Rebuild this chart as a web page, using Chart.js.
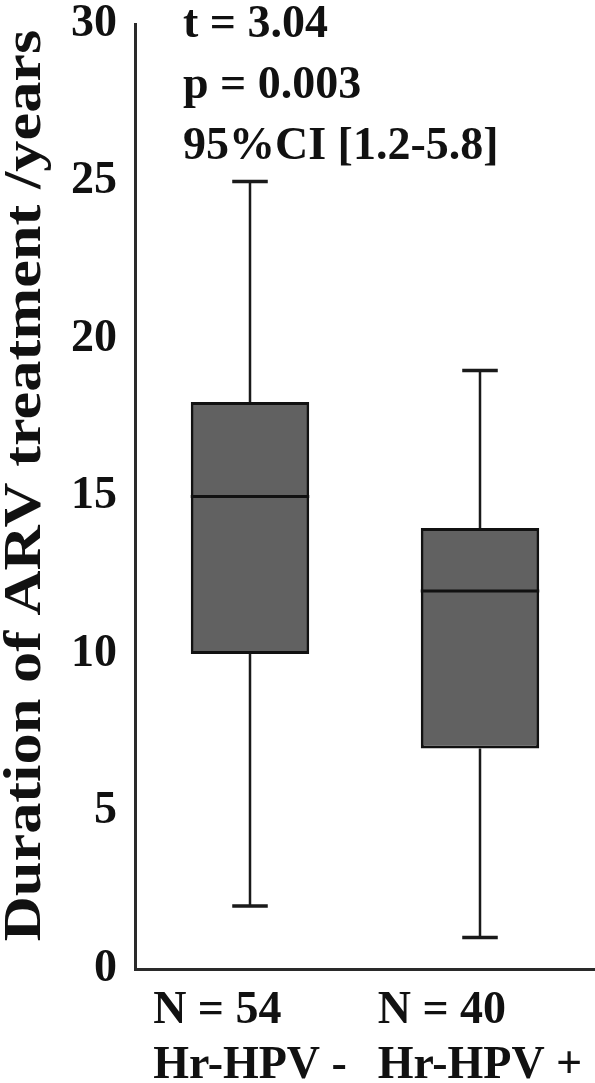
<!DOCTYPE html>
<html>
<head>
<meta charset="utf-8">
<script src="https://cdn.jsdelivr.net/npm/chart.js@4.4.1/dist/chart.umd.min.js"></script>
<style>
  html, body { margin: 0; padding: 0; background: #fff; }
  #wrap { width: 595px; height: 1083px; }
</style>
</head>
<body>
<div id="wrap"><canvas id="box" width="595" height="1083"></canvas></div>
<script>
// values
const groups = ["Hr-HPV -", "Hr-HPV +"];
const counts = [54, 40];
const whiskerLow = [2, 1];
const q1 = [10, 7];
const medians = [15, 12];
const q3 = [18, 14];
const whiskerHigh = [25, 19];
const yTicks = [0, 5, 10, 15, 20, 25, 30];
const yTitle = "Duration of ARV treatment /years";
const statLines = ["t = 3.04", "p = 0.003", "95%CI [1.2-5.8]"];

const SERIF = "'Liberation Serif', 'Times New Roman', serif";
const INK = "#111";

// whiskers + median lines on top of the floating bars
const boxExtras = {
    id: "boxExtras",
    afterDatasetsDraw(chart) {
        const { ctx, scales: { y } } = chart;
        const meta = chart.getDatasetMeta(0);
        ctx.save();
        meta.data.forEach((bar, i) => {
            const cx = bar.x;
            const half = bar.width / 2;
            const cap = bar.width * 0.15;
            ctx.strokeStyle = "#1a1a1a";
            ctx.lineWidth = 2.5;
            ctx.beginPath();
            ctx.moveTo(cx, y.getPixelForValue(q3[i]));
            ctx.lineTo(cx, y.getPixelForValue(whiskerHigh[i]));
            ctx.moveTo(cx, y.getPixelForValue(q1[i]));
            ctx.lineTo(cx, y.getPixelForValue(whiskerLow[i]));
            ctx.stroke();
            ctx.lineWidth = 3.5;
            ctx.beginPath();
            ctx.moveTo(cx - cap, y.getPixelForValue(whiskerHigh[i]));
            ctx.lineTo(cx + cap, y.getPixelForValue(whiskerHigh[i]));
            ctx.moveTo(cx - cap, y.getPixelForValue(whiskerLow[i]));
            ctx.lineTo(cx + cap, y.getPixelForValue(whiskerLow[i]));
            ctx.stroke();
            ctx.strokeStyle = INK;
            ctx.lineWidth = 3;
            ctx.beginPath();
            ctx.moveTo(cx - half, y.getPixelForValue(medians[i]));
            ctx.lineTo(cx + half, y.getPixelForValue(medians[i]));
            ctx.stroke();
        });
        ctx.restore();
    }
};

// stats block, stretched y title and the two-line category labels
const annotations = {
    id: "annotations",
    afterDraw(chart) {
        const { ctx, chartArea, scales: { x } } = chart;
        ctx.save();
        ctx.fillStyle = INK;
        ctx.textBaseline = "alphabetic";
        ctx.textAlign = "left";

        ctx.font = "bold 46px " + SERIF;
        statLines.forEach((line, k) => {
            ctx.fillText(line, 183, 37 + k * 61);
        });

        groups.forEach((g, i) => {
            const cx = x.getPixelForValue(i);
            const left = cx - ctx.measureText(g).width / 2;
            ctx.fillText("N = " + counts[i], left, chartArea.bottom + 54);
            ctx.fillText(g, left, chartArea.bottom + 109);
        });

        // the source title is drawn taller than wide, so stretch it along its length
        ctx.save();
        ctx.translate(40, (chartArea.top + chartArea.bottom) / 2 - 11);
        ctx.rotate(-Math.PI / 2);
        ctx.scale(1.2, 1);
        ctx.textAlign = "center";
        ctx.font = "bold 52px " + SERIF;
        ctx.fillText(yTitle, 0, 0);
        ctx.restore();

        ctx.restore();
    }
};

new Chart(document.getElementById("box"), {
    type: "bar",
    data: {
        labels: groups,
        datasets: [{
            data: q1.map((lo, i) => [lo, q3[i]]),
            backgroundColor: "#616161",
            borderColor: INK,
            borderWidth: 3,
            borderSkipped: false,
            categoryPercentage: 1,
            barPercentage: 0.515
        }]
    },
    options: {
        responsive: false,
        animation: false,
        devicePixelRatio: 1,
        layout: { padding: { top: 24, right: 0, bottom: 114, left: 0 } },
        plugins: { legend: { display: false }, tooltip: { enabled: false } },
        scales: {
            x: {
                grid: { display: false, drawTicks: false },
                border: { display: true, color: "#2a2a2a", width: 3 },
                ticks: { display: false },
                afterFit(s) { s.height = 0; }
            },
            y: {
                min: 0,
                max: 30,
                afterBuildTicks(s) { s.ticks = yTicks.map(v => ({ value: v })); },
                grid: { display: false, drawTicks: false },
                border: { display: true, color: "#2a2a2a", width: 3 },
                ticks: {
                    color: INK,
                    padding: 18,
                    font: { family: SERIF, size: 46, weight: "bold" }
                },
                afterFit(s) {
                    s.width = 135;
                    s.paddingTop = 0;
                    s.paddingBottom = 0;
                }
            }
        }
    },
    plugins: [boxExtras, annotations]
});
</script>
</body>
</html>
